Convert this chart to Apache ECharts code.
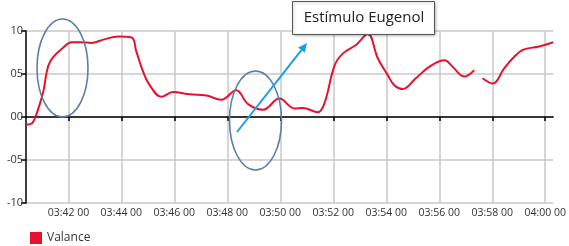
<!DOCTYPE html>
<html><head><meta charset="utf-8">
<script src="https://cdn.jsdelivr.net/npm/echarts@6/dist/echarts.min.js"></script>
<style>html,body{margin:0;padding:0;background:#fff}#c{width:569px;height:246px}</style>
</head><body><div id="c"></div>
<script>
// Data (time as HH:MM:SS, value of "Valance")
const times = ["03:40:24","03:40:37","03:40:44","03:40:52","03:41:03","03:41:14","03:41:26","03:41:48","03:42:07","03:42:30","03:42:52","03:43:19","03:43:53","03:44:23","03:44:34","03:44:49","03:45:03","03:45:31","03:45:57","03:46:35","03:47:13","03:47:46","03:48:20","03:48:47","03:49:21","03:49:58","03:50:32","03:50:51","03:51:25","03:51:40","03:52:03","03:52:22","03:52:52","03:53:18","03:53:41","03:54:03","03:54:18","03:54:37","03:55:07","03:55:38","03:56:12","03:56:30","03:56:57","03:57:19","03:57:28","03:57:38","03:58:01","03:58:27","03:58:46","03:59:09","03:59:46","04:00:18"];
const valance = [-0.9,-0.75,-0.15,1.0,2.9,5.9,7.0,8.05,8.7,8.7,8.6,9.0,9.35,9.25,7.6,5.3,3.8,2.35,2.9,2.65,2.5,2.0,3.1,1.5,0.85,2.15,1.0,1.05,0.55,1.6,6.0,7.4,8.4,9.65,6.8,4.9,3.7,3.25,4.5,5.85,6.6,5.85,4.7,5.45,null,4.5,3.9,5.65,6.8,7.8,8.2,8.7];
const xTicks = ["03:42:00","03:44:00","03:46:00","03:48:00","03:50:00","03:52:00","03:54:00","03:56:00","03:58:00","04:00:00"];
const xRange = ["03:40:24","04:00:18"];
const yTicks = [-10,-5,0,5,10];
const seriesName = "Valance";
const annotationText = "Estímulo Eugenol";

const BASE = 3*3600 + 40*60;
function toSec(s){const p=s.split(':').map(Number);return p[0]*3600+p[1]*60+p[2]-BASE;}
function pad(n){return String(n).padStart(2,'0');}
function fmtX(v){const t=Math.round(v)+BASE;const h=Math.floor(t/3600),m=Math.floor((t%3600)/60),s=t%60;return pad(h)+':'+pad(m)+' '+pad(s);}
function fmtY(v){return (v<0?'-':'')+pad(Math.abs(v));}

const data = times.map((t,i)=>[toSec(t), valance[i]]);
const tickVals = xTicks.map(toSec);

// Arrow geometry
const a0=[237,132], a1=[307,43];
const dx=a1[0]-a0[0], dy=a1[1]-a0[1], L=Math.hypot(dx,dy), ux=dx/L, uy=dy/L;
const hl=9, hw=4.2;
const bx=a1[0]-ux*hl, by=a1[1]-uy*hl;
const blue='#1a9ee2';

const chart = echarts.init(document.getElementById('c'), null, {renderer:'canvas'});
chart.setOption({
  animation:false,
  textStyle:{fontFamily:'Open Sans'},
  grid:{left:26,right:15,top:31,bottom:43,containLabel:false},
  legend:{data:[{name:seriesName,icon:'rect'}],left:25,top:227,itemWidth:12,itemHeight:12,itemGap:5,
    textStyle:{fontFamily:'Open Sans',fontSize:12,color:'#333'}},
  xAxis:{type:'value',min:toSec(xRange[0]),max:toSec(xRange[1]),
    axisLine:{onZero:true,lineStyle:{color:'#000',width:1.5}},
    axisTick:{show:true,length:4,customValues:tickVals,lineStyle:{color:'#000',width:1.5}},
    axisLabel:{customValues:tickVals,formatter:fmtX,fontFamily:'Open Sans',fontSize:10.5,color:'#333',margin:5},
    splitLine:{show:true,lineStyle:{color:'#c8c8c8',width:1.5}}},
  yAxis:{type:'value',min:yTicks[0],max:yTicks[yTicks.length-1],interval:5,
    axisLine:{show:true,onZero:false,lineStyle:{color:'#000',width:1.5}},
    axisTick:{show:true,length:5,lineStyle:{color:'#000',width:1.5}},
    axisLabel:{formatter:fmtY,fontFamily:'Open Sans',fontSize:11,color:'#333',margin:3},
    splitLine:{show:true,lineStyle:{color:'#c8c8c8',width:1.5}}},
  series:[{name:seriesName,type:'line',data:data,smooth:0.4,showSymbol:false,connectNulls:false,
    color:'#e8112d',lineStyle:{color:'#e8112d',width:2},clip:false}],
  graphic:[
    {type:'ellipse',shape:{cx:62.5,cy:68,rx:25.5,ry:49},style:{fill:null,stroke:'#5b7fa8',lineWidth:1.6},z:100},
    {type:'ellipse',shape:{cx:255.5,cy:120.5,rx:26,ry:49.5},style:{fill:null,stroke:'#5b7fa8',lineWidth:1.6},z:100},
    {type:'line',shape:{x1:a0[0],y1:a0[1],x2:bx,y2:by},style:{stroke:blue,lineWidth:2},z:101},
    {type:'polygon',shape:{points:[[a1[0],a1[1]],[bx-uy*hw,by+ux*hw],[bx+uy*hw,by-ux*hw]]},style:{fill:blue},z:101},
    {type:'rect',shape:{x:292.5,y:1.5,width:142,height:33},style:{fill:'#fff',stroke:'#555',lineWidth:1,shadowBlur:3,shadowColor:'rgba(0,0,0,0.25)',shadowOffsetX:1,shadowOffsetY:1},z:102},
    {type:'text',x:364,y:18,style:{text:annotationText,fontFamily:'Open Sans',fontSize:15,fill:'#222',align:'center',verticalAlign:'middle'},z:103}
  ]
});
</script></body></html>
